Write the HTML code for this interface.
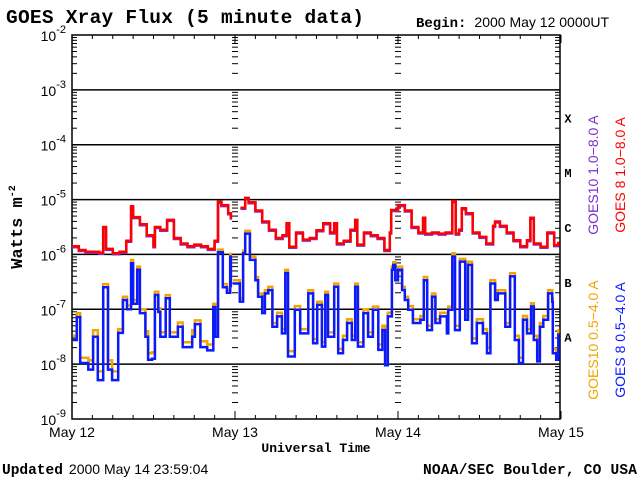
<!DOCTYPE html>
<html><head><meta charset="utf-8"><style>
body{margin:0;background:#fff;width:640px;height:480px;overflow:hidden}
svg{display:block}
.s{font-family:"Liberation Mono",monospace;font-weight:bold}
.h{font-family:"Liberation Sans",sans-serif}
</style></head><body>
<svg id="c" width="640" height="480">
<text class="s" x="6" y="23" font-size="19.5" textLength="358">GOES Xray Flux (5 minute data)</text>
<text x="416" y="27" font-size="14"><tspan class="s" font-size="14">Begin:</tspan><tspan class="h" dx="8">2000 May 12 0000UT</tspan></text>
<text class="s" font-size="17" transform="translate(22,227) rotate(-90)" text-anchor="middle">Watts m<tspan font-size="10" dy="-7">-2</tspan></text>
<text class="s" x="316" y="452" font-size="13" text-anchor="middle">Universal Time</text>
<text x="2" y="474" font-size="15"><tspan class="s" font-size="14.5">Updated</tspan><tspan class="h" dx="6" font-size="14">2000 May 14 23:59:04</tspan></text>
<text class="s" x="637" y="474" font-size="14.5" text-anchor="end" textLength="214">NOAA/SEC Boulder, CO USA</text>
<g id="axes"></g><g id="marks"></g>
<text class="h" font-size="14" fill="#7b2fd0" transform="translate(598,175) rotate(-90)" text-anchor="middle">GOES10 1.0−8.0 A</text>
<text class="h" font-size="14" fill="#f00" transform="translate(625,175) rotate(-90)" text-anchor="middle">GOES 8 1.0−8.0 A</text>
<text class="h" font-size="14" fill="#f5a300" transform="translate(598,340) rotate(-90)" text-anchor="middle">GOES10 0.5−4.0 A</text>
<text class="h" font-size="14" fill="#0a1aff" transform="translate(625,340) rotate(-90)" text-anchor="middle">GOES 8 0.5−4.0 A</text>
</svg>
<script>
const dayLabels=["May 12","May 13","May 14","May 15"];
const decades=[-2,-3,-4,-5,-6,-7,-8,-9];
const classLetters=["X","M","C","B","A"];
const redTimes=[0,1,2,3,4,4.6,5,6,7,8,8.7,9,10,11,12,12.2,13,14,15,16,17,18,19,20,21,21.5,22,23,23.4,null,24.8,25.5,26,27,28,29,30,31,31.6,32,33,34,35,36,37,38,38.6,39,40,41,41.7,42,43,44,45,46,46.8,47,48,49,50,51,51.7,52,53,54,55,56,56.5,57,57.4,58,59,60,61,62,62.3,63,64,65,66,67,67.5,68,69,70,71,71.6];
const redVals=[-5.85,-5.92,-5.95,-5.95,-5.97,-5.5,-5.9,-5.98,-5.95,-5.75,-5.12,-5.32,-5.45,-5.65,-5.85,-5.5,-5.55,-5.37,-5.7,-5.8,-5.85,-5.82,-5.85,-5.9,-5.75,-5.04,-5.1,-5.25,-5.35,null,-5.15,-4.97,-5.05,-5.2,-5.4,-5.55,-5.7,-5.65,-5.43,-5.86,-5.6,-5.73,-5.7,-5.56,-5.43,-5.6,-5.43,-5.8,-5.75,-5.55,-5.37,-5.82,-5.6,-5.65,-5.7,-5.92,-5.6,-5.19,-5.1,-5.2,-5.5,-5.6,-5.33,-5.62,-5.6,-5.62,-5.6,-5.03,-5.62,-5.55,-5.16,-5.25,-5.6,-5.68,-5.8,-5.48,-5.4,-5.48,-5.6,-5.74,-5.85,-5.74,-5.33,-5.8,-5.86,-5.6,-5.83,-5.77];
const blueTimes=[0.1,0.7,1.2,2.4,3.1,3.8,4.6,5.3,5.9,6.8,7.5,8.1,8.7,9.0,9.6,10.0,10.8,11.2,11.8,12.2,12.7,13.0,13.8,14.4,15.6,16.3,17.7,18.1,18.9,19.9,20.8,21.1,21.5,22.2,22.8,23.3,23.4,null,23.7,24.7,25.2,25.5,26.2,27.0,27.4,28.0,28.4,28.9,29.5,30.2,30.9,31.4,31.8,32.8,33.6,34.8,35.5,36.1,36.8,37.3,37.7,38.6,39.2,39.9,40.5,41.2,41.7,42.1,42.9,43.6,44.3,45.1,45.7,46.1,46.5,47.1,47.3,47.6,48.0,48.6,49.0,49.5,50.2,51.3,51.8,52.3,53.0,53.5,54.2,55.2,55.4,56.0,56.4,57.1,57.9,58.3,58.9,59.6,60.5,61.1,61.6,62.3,62.7,63.8,64.5,65.2,65.8,66.4,67.0,67.6,68.0,68.5,68.9,69.4,70.1,70.7,70.8,71.3,71.6];
const blueVals=[-7.56,-7.14,-7.98,-8.1,-7.5,-8.29,-6.6,-8.1,-8.29,-7.43,-6.83,-7.0,-6.16,-6.9,-6.28,-7.07,-7.5,-7.92,-7.9,-6.74,-7.05,-7.5,-6.8,-7.5,-7.32,-7.69,-7.5,-7.27,-7.69,-7.75,-6.96,-7.5,-5.96,-6.6,-6.7,-6.04,-6.6,null,-6.53,-6.86,-5.98,-5.62,-6.1,-6.47,-6.77,-7.07,-6.71,-6.65,-7.32,-7.13,-7.44,-6.34,-7.86,-7.01,-7.44,-6.71,-7.62,-6.92,-7.68,-6.74,-7.5,-6.59,-7.8,-7.56,-7.25,-7.56,-6.59,-7.68,-7.07,-7.5,-7.01,-7.74,-7.38,-8.02,-7.13,-6.28,-6.19,-6.47,-6.28,-6.65,-6.83,-7.01,-7.25,-7.19,-6.47,-7.38,-6.77,-7.25,-7.13,-7.44,-7.01,-6.04,-7.38,-6.13,-7.19,-6.19,-7.62,-7.25,-7.44,-7.8,-6.53,-6.83,-6.71,-7.32,-6.4,-7.56,-7.98,-7.19,-7.44,-6.95,-7.56,-7.95,-7.32,-7.19,-6.71,-6.86,-7.8,-7.92,-7.44];
const orangeVals=[-7.5,-7.09,-7.9,-7.95,-7.4,-8.15,-6.56,-7.95,-8.15,-7.38,-6.79,-6.95,-6.12,-6.85,-6.24,-7.02,-7.42,-7.82,-7.8,-6.7,-7.0,-7.44,-6.76,-7.44,-7.26,-7.62,-7.4,-7.22,-7.6,-7.66,-6.92,-7.44,-5.93,-6.56,-6.66,-6.01,-6.56,null,-6.49,-6.82,-5.95,-5.59,-6.06,-6.43,-6.73,-7.02,-6.67,-6.61,-7.27,-7.08,-7.38,-6.3,-7.78,-6.96,-7.38,-6.67,-7.56,-6.88,-7.62,-6.7,-7.44,-6.55,-7.74,-7.5,-7.2,-7.5,-6.55,-7.62,-7.02,-7.44,-6.97,-7.66,-7.32,-7.95,-7.08,-6.24,-6.16,-6.43,-6.24,-6.61,-6.79,-6.96,-7.2,-7.14,-6.43,-7.32,-6.73,-7.2,-7.08,-7.38,-6.97,-6.0,-7.32,-6.1,-7.14,-6.15,-7.55,-7.2,-7.38,-7.72,-6.49,-6.79,-6.67,-7.27,-6.36,-7.5,-7.9,-7.14,-7.38,-6.91,-7.5,-7.88,-7.27,-7.14,-6.67,-6.82,-7.74,-7.84,-7.38];

const L=72,R=560,T=35,B=419;
const x=h=>L+h*(R+1-L)/72;
const y=v=>T+(-2-v)*(B-T)/7;
const NS="http://www.w3.org/2000/svg";
const ax=document.getElementById('axes'),mk=document.getElementById('marks');
function el(tag,at,p){const e=document.createElementNS(NS,tag);for(const k in at)e.setAttribute(k,at[k]);p.appendChild(e);return e;}
const fr=el('rect',{x:L,y:T,width:R-L,height:B-T,fill:'none',stroke:'#000','stroke-width':1.5},ax);


decades.forEach(d=>{
  if(d<-2&&d>-9){const g=el('line',{x1:L,x2:R,y1:y(d),y2:y(d),stroke:'#000','stroke-width':1.5},ax);
  
  }
  const t=el('text',{x:L-6,y:y(d)+6,'font-size':14,'text-anchor':'end',class:'h'},ax);
  t.innerHTML='10<tspan font-size="11" dy="-8">'+d+'</tspan>';
  
  
  if(d>-9){for(let m=2;m<=9;m++){const yy=y(d-1+Math.log10(m));
    [[L,L+5],[x(24)-3,x(24)+3],[x(48)-3,x(48)+3],[R-5,R]].forEach(p=>{
      const tk=el('line',{x1:p[0],x2:p[1],y1:yy,y2:yy,stroke:'#000','stroke-width':1},ax);
      
      });}}
});
for(let h=0;h<=72;h+=3){const xx=x(h),len=h%24==0?8:4;
  [[T,T+len],[B-len,B]].forEach(p=>{const tk=el('line',{x1:xx,x2:xx,y1:p[0],y2:p[1],stroke:'#000','stroke-width':1},ax);
  
  });}
dayLabels.forEach((s,i)=>{const t=el('text',{x:x(i*24),y:437,'font-size':14,'text-anchor':'middle',class:'h'},ax);t.textContent=s;
  
  });
classLetters.forEach((c,i)=>{const t=el('text',{x:568,y:(y(-3-i)+y(-4-i))/2+5,'font-size':12,'text-anchor':'middle',class:'s','font-family':'Liberation Serif'},ax);t.textContent=c;
  
  });
function path(ts,vs,color,name,dy){let d='',pen=false,py=0;
  ts.forEach((t,i)=>{if(t===null||vs[i]===null){pen=false;return;}
    const xx=x(t).toFixed(1),yy=(y(vs[i])+dy).toFixed(1);
    if(pen)d+='L'+xx+','+py+'L'+xx+','+yy;else d+='M'+xx+','+yy;
    py=yy;pen=true;});
  const p=el('path',{d:d,fill:'none',stroke:color,'stroke-width':2.5,'stroke-linejoin':'miter'},mk);
  
  }
path(redTimes,redVals,'#7b2fd0','series-goes10-long',1);
path(redTimes,redVals,'#f00','series-goes8-long',0);
path(blueTimes,orangeVals,'#f5a300','series-goes10-short',-1);
path(blueTimes,blueVals,'#0a1aff','series-goes8-short',0);
</script>
</body></html>
